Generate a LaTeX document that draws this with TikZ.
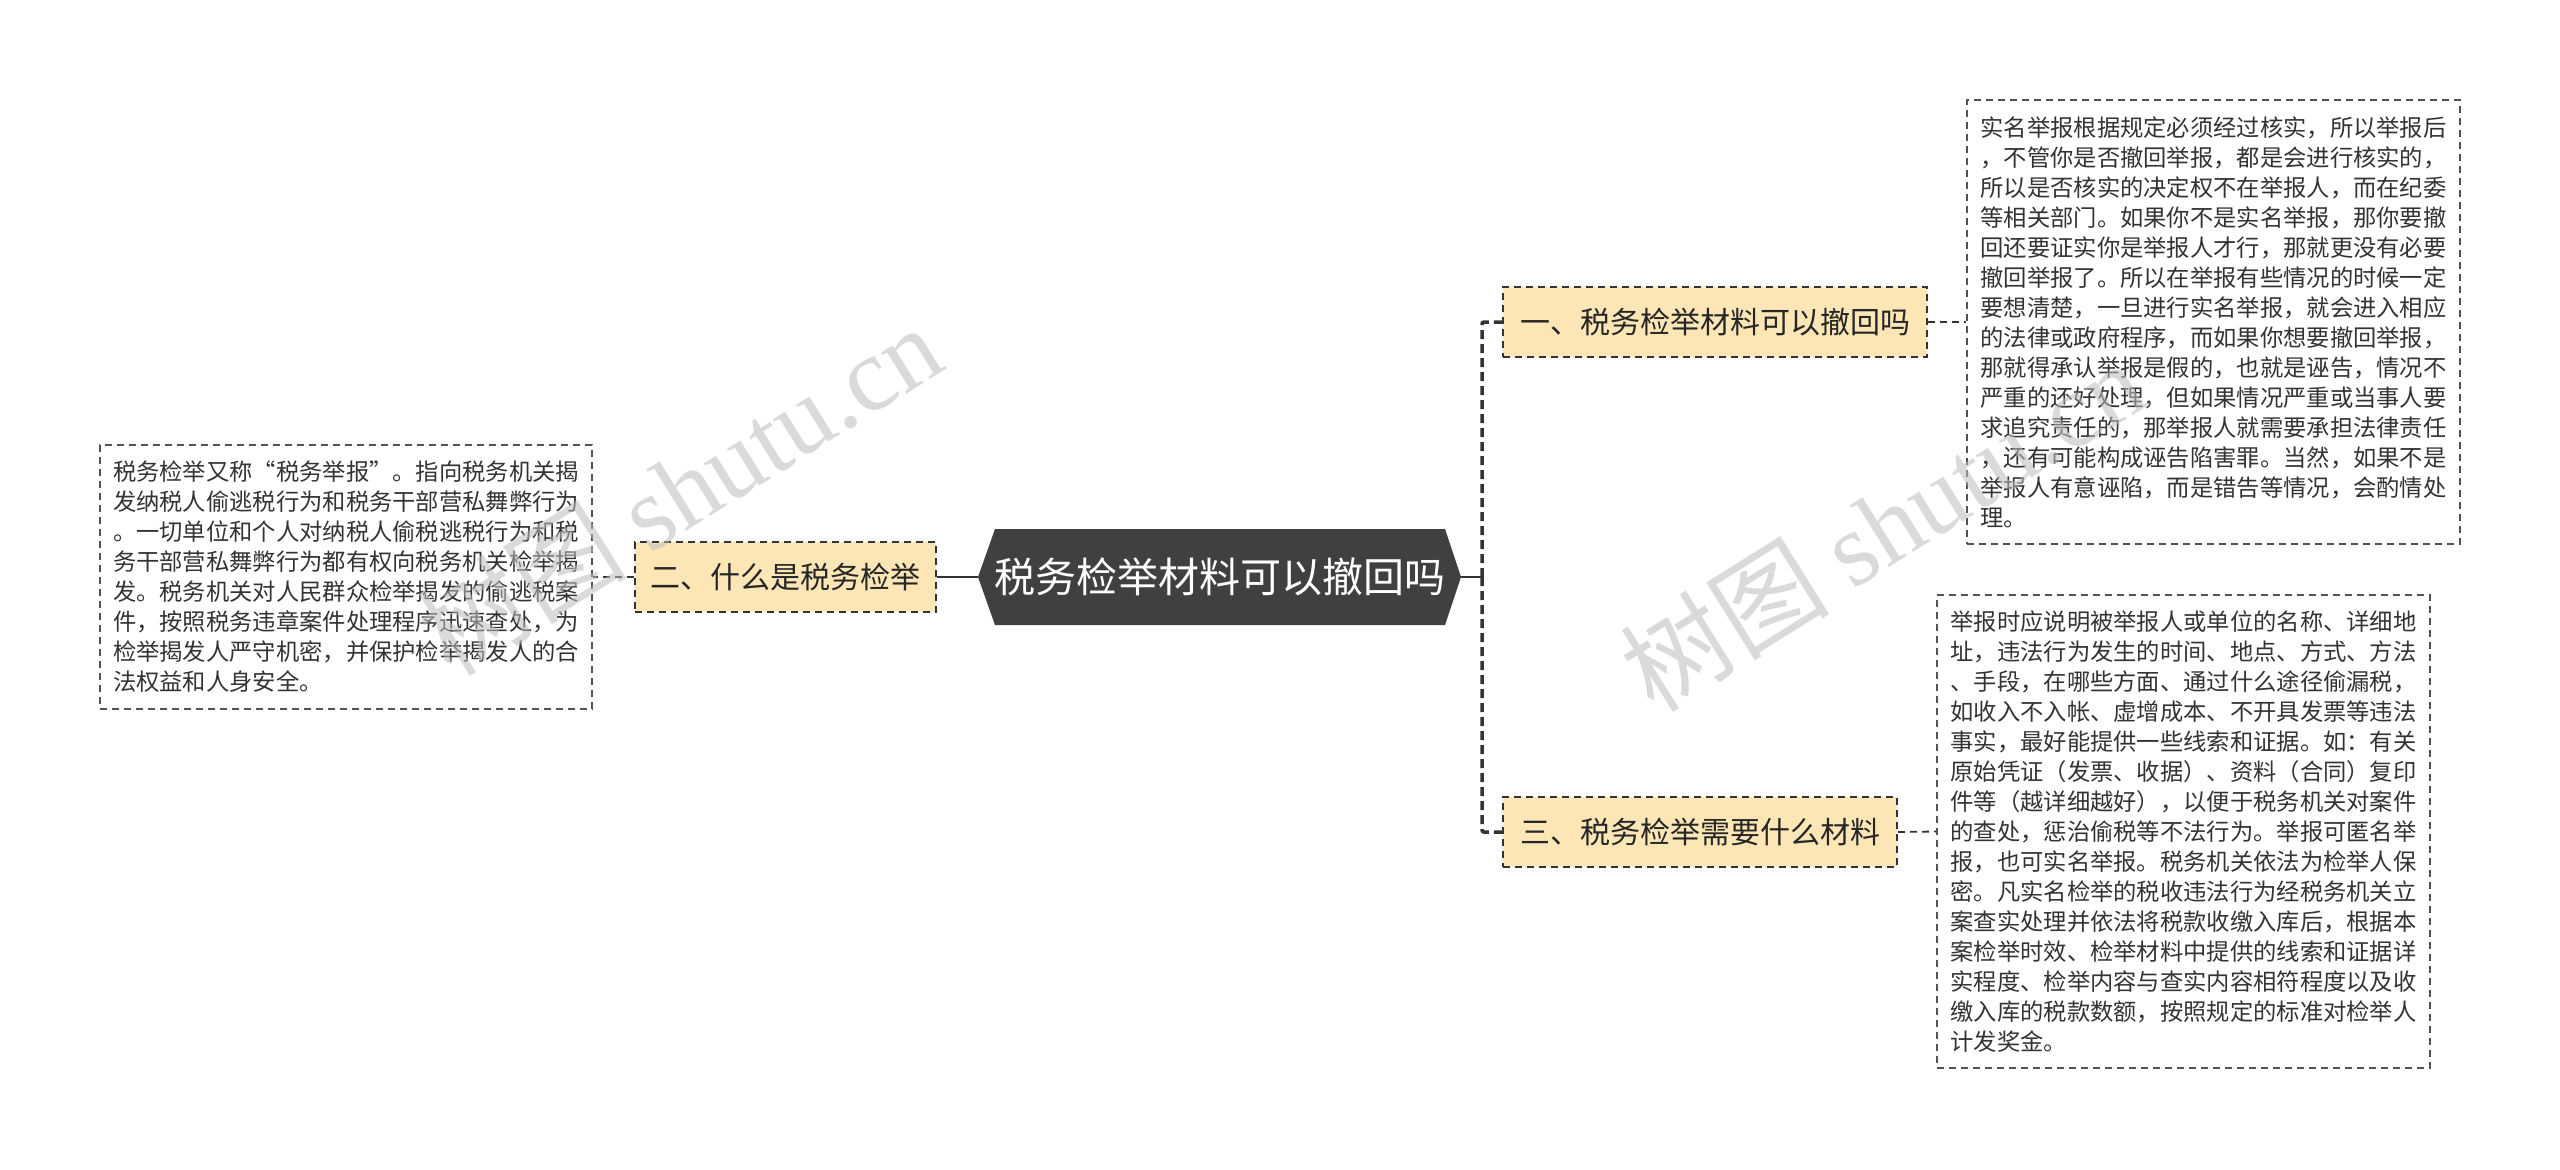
\documentclass[tikz,border=0pt]{standalone}
\usepackage{fontspec}
\setmainfont{Noto Sans CJK SC}
\newfontfamily\wmlatin{Liberation Serif}
\definecolor{hexfill}{HTML}{404040}
\definecolor{topicfill}{HTML}{FDE6B6}
\definecolor{linecol}{HTML}{333333}
\definecolor{txtcol}{HTML}{333333}
\definecolor{wmcol}{HTML}{BDBDBD}
\pgfdeclarelayer{bg}
\pgfdeclarelayer{links}
\pgfsetlayers{bg,links,main}
\begin{document}
\begin{tikzpicture}[x=1pt,y=-1pt,
  topic/.style={draw=linecol, line width=2pt, dash pattern=on 7pt off 5pt, fill=topicfill, inner sep=0pt, minimum height=70pt, font=\fontsize{30}{36}\selectfont, text=black!85},
  textbox/.style={draw=linecol!85, line width=1.6pt, dash pattern=on 7pt off 5pt, fill=white, inner sep=0pt, align=left, font=\fontsize{23.3}{30}\selectfont, text=txtcol},
  thinlink/.style={draw=linecol, line width=1.8pt, dash pattern=on 7pt off 5pt},
  trunk/.style={draw=linecol, line width=3.5pt, dash pattern=on 9pt off 5pt, rounded corners=2pt},
  solidlink/.style={draw=linecol, line width=2.5pt},
  wm/.style={text=wmcol, opacity=0.55, rotate=32, inner sep=0pt, font=\fontsize{105}{105}\selectfont}
]
\begin{pgfonlayer}{bg}
\fill[white] (0,0) rectangle (2560,1170);
\end{pgfonlayer}
\useasboundingbox (0,0) rectangle (2560,1170);

% central hexagon
\coordinate (cw) at (978,577);
\coordinate (ce) at (1461,577);
\coordinate (j) at (1482,577);
\fill[hexfill] (cw) -- (995,529) -- (1445,529) -- (ce) -- (1445,625) -- (995,625) -- cycle;
\node[text=white, font=\fontsize{41}{41}\selectfont, inner sep=0pt] (root) at (1220,577) {税务检举材料可以撤回吗};

% topics
\node[topic, minimum width=301pt] (t2) at (785.5,577) {二、什么是税务检举};
\node[topic, minimum width=424pt] (t1) at (1715,322) {一、税务检举材料可以撤回吗};
\node[topic, minimum width=394pt] (t3) at (1700,832) {三、税务检举需要什么材料};

% text boxes
\node[textbox, minimum width=492pt, minimum height=264pt] (b2) at (346,577) {税务检举又称“税务举报”。指向税务机关揭\\
发纳税人偷逃税行为和税务干部营私舞弊行为\\
。一切单位和个人对纳税人偷税逃税行为和税\\
务干部营私舞弊行为都有权向税务机关检举揭\\
发。税务机关对人民群众检举揭发的偷逃税案\\
件，按照税务违章案件处理程序迅速查处，为\\
检举揭发人严守机密，并保护检举揭发人的合\\
法权益和人身安全。};

\node[textbox, minimum width=493pt, minimum height=444pt] (b1) at (2213.5,322) {实名举报根据规定必须经过核实，所以举报后\\
，不管你是否撤回举报，都是会进行核实的，\\
所以是否核实的决定权不在举报人，而在纪委\\
等相关部门。如果你不是实名举报，那你要撤\\
回还要证实你是举报人才行，那就更没有必要\\
撤回举报了。所以在举报有些情况的时候一定\\
要想清楚，一旦进行实名举报，就会进入相应\\
的法律或政府程序，而如果你想要撤回举报，\\
那就得承认举报是假的，也就是诬告，情况不\\
严重的还好处理，但如果情况严重或当事人要\\
求追究责任的，那举报人就需要承担法律责任\\
，还有可能构成诬告陷害罪。当然，如果不是\\
举报人有意诬陷，而是错告等情况，会酌情处\\
理。};

\node[textbox, minimum width=493pt, minimum height=473pt] (b3) at (2183.5,831.5) {举报时应说明被举报人或单位的名称、详细地\\
址，违法行为发生的时间、地点、方式、方法\\
、手段，在哪些方面、通过什么途径偷漏税，\\
如收入不入帐、虚增成本、不开具发票等违法\\
事实，最好能提供一些线索和证据。如：有关\\
原始凭证（发票、收据）、资料（合同）复印\\
件等（越详细越好），以便于税务机关对案件\\
的查处，惩治偷税等不法行为。举报可匿名举\\
报，也可实名举报。税务机关依法为检举人保\\
密。凡实名检举的税收违法行为经税务机关立\\
案查实处理并依法将税款收缴入库后，根据本\\
案检举时效、检举材料中提供的线索和证据详\\
实程度、检举内容与查实内容相符程度以及收\\
缴入库的税款数额，按照规定的标准对检举人\\
计发奖金。};

% connectors
\begin{pgfonlayer}{links}
\draw[solidlink] (cw) -- (t2.east);
\draw[thinlink] (t2.west) -- (b2.east);
\draw[solidlink] (ce) -- (j);
\draw[trunk] (j) |- (t1.west);
\draw[trunk] (j) |- (t3.west);
\draw[thinlink] (t1.east) -- (b1.west);
\draw[thinlink] (t3.east) -- (b3.west);
\end{pgfonlayer}

% watermarks
\node[wm] (wm1) at (679,489) {树图 {\wmlatin shutu.cn}};
\node[wm] (wm2) at (1882,525) {树图 {\wmlatin shutu.cn}};
\end{tikzpicture}
\end{document}
